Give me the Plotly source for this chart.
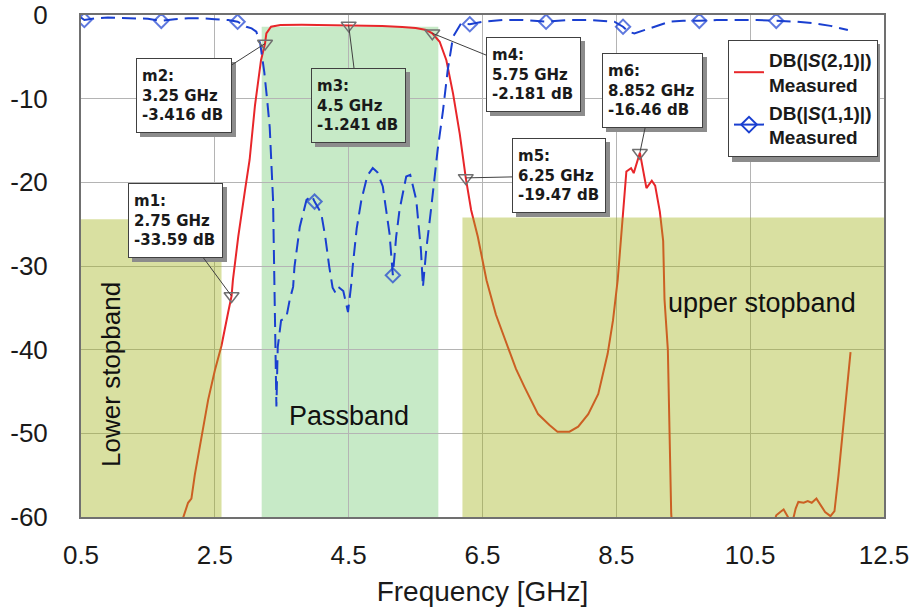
import plotly.graph_objects as go

# ---------------- data ----------------
s21_freq = [2.00, 2.03, 2.10, 2.15, 2.20, 2.30, 2.40, 2.50, 2.60, 2.70, 2.75, 2.77, 2.85, 2.95, 3.02,
            3.10, 3.19, 3.25, 3.27, 3.34, 3.48, 3.80, 4.20, 4.50, 5.00, 5.30, 5.50, 5.66, 5.75,
            5.86, 5.96, 6.06, 6.16, 6.25, 6.33, 6.43, 6.56, 6.70, 6.88, 7.00, 7.13, 7.33, 7.50,
            7.62, 7.80, 7.93, 8.08, 8.23, 8.37, 8.45, 8.52, 8.58, 8.65, 8.72, 8.76, 8.852, 8.95,
            9.03, 9.08, 9.15, 9.20, 9.22, 9.27, 9.32, 9.36, 9.60, 10.00, 10.50, 10.85, 10.89,
            10.95, 11.00, 11.05, 11.10, 11.15, 11.18, 11.22, 11.30, 11.36, 11.42, 11.49, 11.55,
            11.62, 11.70, 11.76, 11.82, 11.89, 11.96, 12.00]
s21_db = [-62.0, -60.0, -58.3, -57.8, -55.0, -50.5, -46.0, -42.5, -39.5, -35.5, -33.59, -31.7, -26.5, -21.0, -17.3,
          -10.8, -5.4, -3.416, -2.2, -1.4, -1.2, -1.18, -1.2, -1.241, -1.3, -1.42, -1.55, -1.8, -2.181,
          -3.2, -5.4, -9.4, -14.2, -19.47, -23.3, -26.5, -31.7, -35.8, -39.7, -42.3, -44.5, -47.7, -49.0,
          -49.8, -49.8, -49.2, -47.7, -45.3, -40.5, -36.5, -31.7, -26.0, -18.7, -18.3, -18.9, -16.46, -20.7,
          -19.8, -20.4, -23.5, -27.0, -34.0, -40.0, -59.6, -64.0, -70.0, -72.0, -70.0, -61.0, -59.8,
          -59.4, -59.1, -59.8, -60.5, -60.0, -59.0, -58.2, -58.3, -58.1, -58.3, -57.8, -58.6,
          -59.4, -59.9, -59.3, -55.0, -49.6, -43.7, -40.3]

s11_freq = [0.50, 0.55, 0.70, 0.90, 1.10, 1.30, 1.50, 1.70, 1.90, 2.10, 2.30, 2.50, 2.70, 2.84, 2.97,
            3.05, 3.12, 3.18, 3.24, 3.28, 3.32, 3.37, 3.39, 3.42, 3.44, 3.49, 3.57, 3.62, 3.67, 3.69,
            3.77, 3.87, 3.95, 3.99, 4.09, 4.15, 4.21, 4.26, 4.31, 4.36, 4.42, 4.49, 4.54, 4.56, 4.62,
            4.69, 4.78, 4.86, 4.93, 5.01, 5.11, 5.16, 5.21, 5.26, 5.36, 5.42, 5.51, 5.58, 5.61, 5.66,
            5.73, 5.83, 5.91, 5.98, 6.06, 6.18, 6.31, 6.50, 6.80, 7.10, 7.45, 7.80, 8.10, 8.35, 8.47,
            8.60, 8.68, 8.77, 8.85, 8.92, 9.08, 9.30, 9.50, 9.74, 10.00, 10.30, 10.60, 10.89, 11.20,
            11.46, 11.70, 11.96]
s11_db = [-0.3, -0.6, -0.4, -0.3, -0.35, -0.4, -0.45, -0.7, -0.5, -0.4, -0.4, -0.5, -0.6, -0.8, -1.4,
          -1.6, -2.0, -3.5, -6.9, -10.0, -13.4, -22.1, -34.0, -46.8, -39.7, -36.5, -36.1, -34.0, -32.5, -30.1,
          -25.3, -22.1, -21.6, -22.3, -23.7, -26.5, -30.1, -32.6, -33.3, -32.6, -33.0, -35.5, -32.1, -30.1, -25.5,
          -22.1, -19.2, -18.3, -18.8, -20.5, -26.1, -31.1, -26.5, -23.3, -19.3, -19.1, -22.1, -28.1, -32.5, -28.0,
          -23.3, -16.1, -11.4, -6.6, -2.6, -1.0, -1.1, -0.8, -0.6, -0.6, -0.8, -0.6, -0.6, -0.7, -0.8,
          -1.4, -2.0, -2.2, -2.0, -1.8, -1.4, -0.8, -0.7, -0.7, -0.6, -0.6, -0.6, -0.7, -0.8,
          -1.0, -1.3, -1.8]
s11_marker_freq = [0.55, 1.70, 2.84, 3.99, 5.16, 6.31, 7.45, 8.60, 9.74, 10.89]

marker_names = ["m1", "m2", "m3", "m4", "m5", "m6"]
marker_freq = [2.75, 3.25, 4.5, 5.75, 6.25, 8.852]
marker_db = [-33.59, -3.416, -1.241, -2.181, -19.47, -16.46]

x_ticks = [0.5, 2.5, 4.5, 6.5, 8.5, 10.5, 12.5]
y_ticks = [0, -10, -20, -30, -40, -50, -60]

lower_stop = (0.5, 2.6, -24.4)   # x0, x1, top
passband = (3.2, 5.84, -1.4)
upper_stop = (6.2, 12.5, -24.2)

S21_NAME = "<b>DB(|<i>S</i>(2,1)|)<br>Measured</b>"
S11_NAME = "<b>DB(|<i>S</i>(1,1)|)<br>Measured</b>"
RED = "#e8262a"
BLUE = "#1a3fd0"

# ---------------- figure ----------------
fig = go.Figure()

fig.add_trace(go.Scatter(
    x=s21_freq, y=s21_db, mode="lines",
    line=dict(color=RED, width=2), name=S21_NAME))

s11_sizes = [11 if f in s11_marker_freq else 0 for f in s11_freq]
fig.add_trace(go.Scatter(
    x=s11_freq, y=s11_db, mode="lines+markers", showlegend=False,
    line=dict(color=BLUE, width=2, dash="14px,7px"),
    marker=dict(symbol="diamond-open", size=s11_sizes, color=BLUE, line=dict(width=2))))
# legend entry for S11
fig.add_trace(go.Scatter(
    x=[None], y=[None], mode="lines+markers", name=S11_NAME,
    line=dict(color=BLUE, width=2),
    marker=dict(symbol="diamond-open", size=12, color=BLUE, line=dict(width=2))))

fig.add_trace(go.Scatter(
    x=marker_freq, y=marker_db, mode="markers", showlegend=False,
    marker=dict(symbol="triangle-down-open", size=13, color="#707070", line=dict(width=1.5))))

# regions
fig.add_shape(type="rect", xref="x", yref="y", x0=passband[0], x1=passband[1], y0=-60, y1=passband[2],
              fillcolor="#c7eac7", line=dict(width=0), layer="below")
for x0, x1, top in (lower_stop, upper_stop):
    fig.add_shape(type="rect", xref="x", yref="y", x0=x0, x1=x1, y0=-60, y1=top,
                  fillcolor="rgba(162,179,27,0.41)", line=dict(width=0), layer="above")

# legend shadow (paper coords; plot area 803 x 502 px, origin at px (81, 517))
PW, PH = 803.0, 502.0
fig.add_shape(type="rect", xref="paper", yref="paper",
              x0=(732 - 81) / PW, x1=(880 - 81) / PW, y0=(517 - 162) / PH, y1=(517 - 44) / PH,
              fillcolor="#8c8c8c", line=dict(width=0), layer="above")

# marker annotation boxes
offsets = {"m1": (-56, -76), "m2": (-81, 52), "m3": (10, 80),
           "m4": (101, 41), "m5": (93, -2), "m6": (13, -62)}
box_w = {"m1": 95, "m2": 96, "m3": 95, "m4": 95, "m5": 94, "m6": 101}
bgs = {"m3": "#c7eac7"}
box_font = dict(family="DejaVu Sans", size=15, color="#1a1a1a")
PAD = 5
for name, f, d in zip(marker_names, marker_freq, marker_db):
    ax, ay = offsets[name]
    fig.add_annotation(x=f, y=d, ax=ax + 4, ay=ay + 4, text=" ", showarrow=True,
                       arrowcolor="rgba(0,0,0,0)", font=box_font,
                       width=box_w[name] - 2 * PAD - 2, height=75 - 2 * PAD - 2,
                       bgcolor="#8c8c8c", bordercolor="#8c8c8c", borderwidth=1, borderpad=PAD)
for name, f, d in zip(marker_names, marker_freq, marker_db):
    ax, ay = offsets[name]
    txt = f"<b>{name}:<br>{f:g} GHz<br>{d:g} dB</b>"
    fig.add_annotation(x=f, y=d, ax=ax, ay=ay, text=txt, showarrow=True, arrowhead=0,
                       arrowwidth=1, arrowcolor="#404040", standoff=0,
                       width=box_w[name] - 2 * PAD - 2, height=75 - 2 * PAD - 2,
                       font=box_font, align="left", bgcolor=bgs.get(name, "white"),
                       bordercolor="#404040", borderwidth=1, borderpad=PAD)

# region labels
lab_font = dict(family="Liberation Sans, Arial", size=27, color="#111111")
fig.add_annotation(x=0.95, y=-43.0, text="Lower stopband", textangle=-90, showarrow=False,
                   font=dict(family="Liberation Sans, Arial", size=26, color="#111111"))
fig.add_annotation(x=4.5, y=-47.9, text="Passband", showarrow=False, font=lab_font)
fig.add_annotation(x=10.67, y=-34.4, text="upper stopband", showarrow=False, font=lab_font)

tick_font = dict(family="Liberation Sans, Arial", size=26, color="#1a1a1a")
fig.update_xaxes(range=[0.5, 12.5], tickvals=x_ticks, ticktext=[f"{t:g}" for t in x_ticks],
                 showgrid=True, gridcolor="#b4b4b4", gridwidth=1, zeroline=False,
                 showline=True, mirror=True, linecolor="#707070", linewidth=2,
                 ticks="", tickfont=tick_font, ticklabelstandoff=14, automargin=False,
                 title=dict(text="Frequency [GHz]", font=dict(family="Liberation Sans, Arial", size=28, color="#1a1a1a"),
                            standoff=12))
fig.update_yaxes(range=[-60, 0], tickvals=y_ticks, ticktext=[f"{t:g}" for t in y_ticks],
                 showgrid=True, gridcolor="#b4b4b4", gridwidth=1, zeroline=False,
                 showline=True, mirror=True, linecolor="#707070", linewidth=2, automargin=False,
                 ticks="", tickfont=tick_font, ticklabelstandoff=26)

fig.update_layout(
    width=915, height=609, margin=dict(l=81, r=31, t=15, b=92),
    paper_bgcolor="white", plot_bgcolor="white",
    legend=dict(x=(728 - 81) / PW, y=(517 - 40) / PH, xanchor="left", yanchor="top",
                bgcolor="white", bordercolor="#404040", borderwidth=1,
                font=dict(family="Liberation Sans, Arial", size=19, color="#1a1a1a"),
                tracegroupgap=10),
)

fig.write_html("out.html")
